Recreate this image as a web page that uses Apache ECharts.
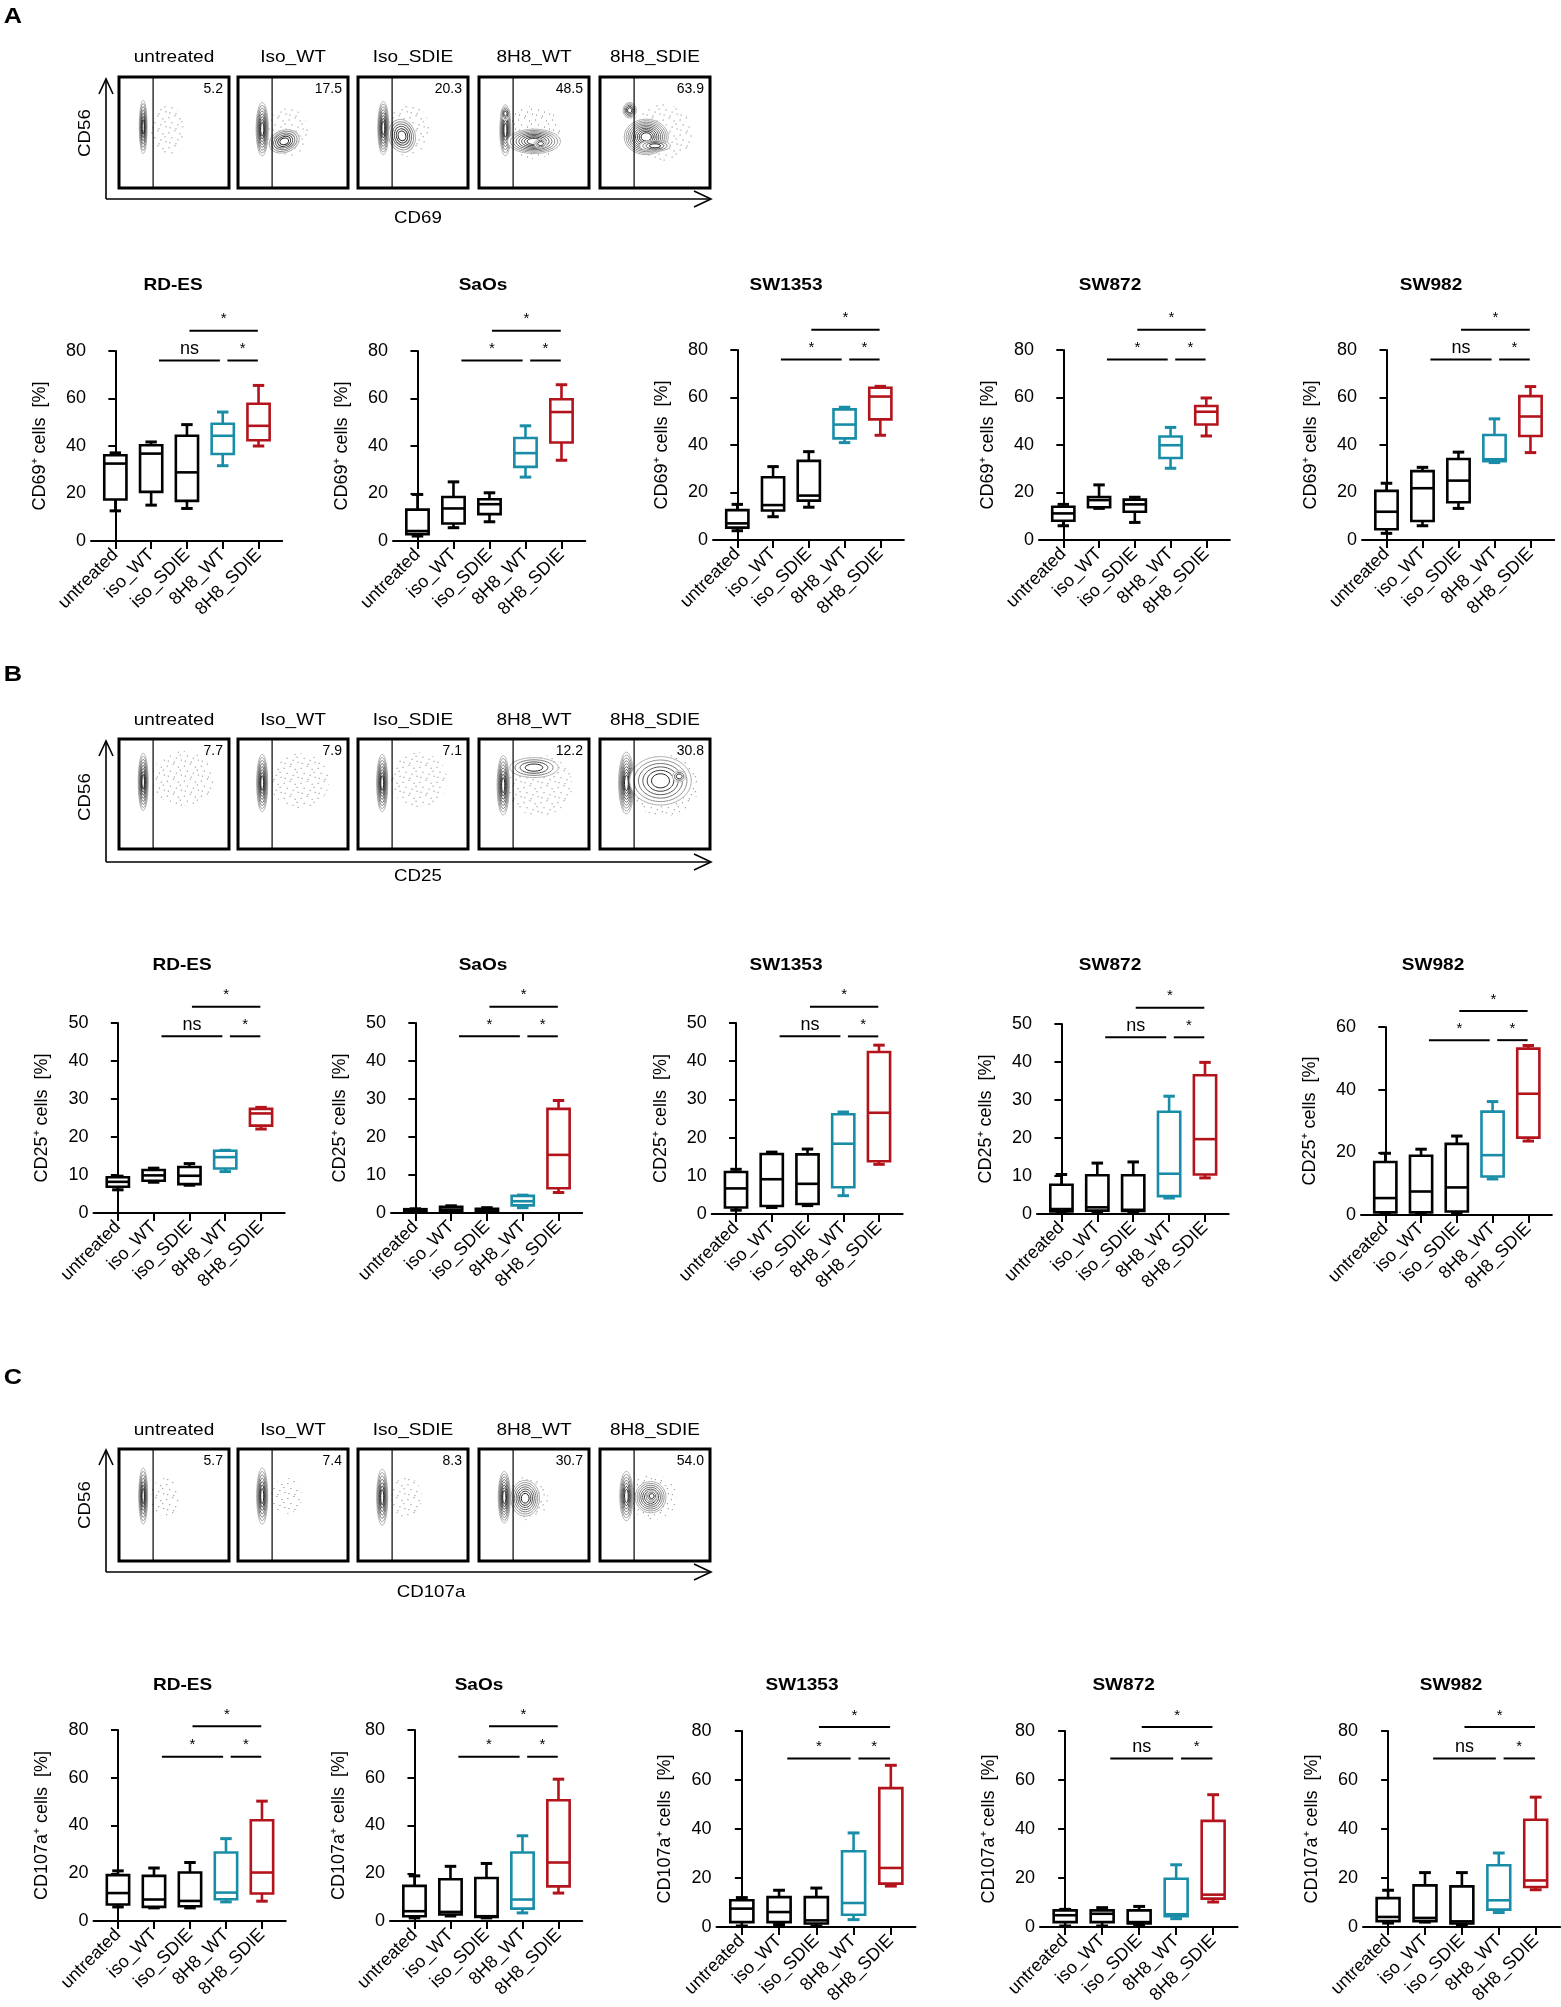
<!DOCTYPE html>
<html lang="en">
<head>
<meta charset="UTF-8">
<title>NK cell activation</title>
<script src="https://cdn.jsdelivr.net/npm/echarts@6/dist/echarts.min.js"></script>
<style>
html,body{margin:0;padding:0;background:#fff;}
#main{width:1561px;height:2007px;}
</style>
</head>
<body>
<div id="main"></div>
<script>
// ---- data ----
var groups = ['untreated', 'iso_WT', 'iso_SDIE', '8H8_WT', '8H8_SDIE'];
var flowGroups = ['untreated', 'Iso_WT', 'Iso_SDIE', '8H8_WT', '8H8_SDIE'];
var cellLines = ['RD-ES', 'SaOs', 'SW1353', 'SW872', 'SW982'];

// box stats per group: [min, q1, median, q3, max]
var cd69_RDES   = [[12.7,17.5,32.6,36.1,37.1],[15.1,20.7,36.8,40.3,41.7],[13.7,16.9,28.9,44.3,49.0],[31.7,36.6,44.3,49.4,54.3],[40.0,42.4,48.5,57.8,65.5]];
var cd69_SaOs   = [[2.1,2.9,4.2,13.2,19.6],[5.6,7.4,13.7,18.5,24.9],[8.1,11.3,15.5,17.6,20.3],[26.9,31.2,37.0,43.4,48.5],[34.0,41.5,54.3,59.7,65.8]];
var cd69_SW1353 = [[3.9,5.2,7.0,12.6,15.0],[9.8,12.4,14.7,26.4,30.9],[13.8,16.6,18.7,33.3,37.2],[41.0,42.8,48.6,55.0,55.9],[44.1,50.8,60.4,64.1,64.7]];
var cd69_SW872  = [[6.0,8.1,11.2,14.0,15.0],[13.3,13.8,16.8,18.1,23.2],[7.4,11.9,15.0,17.0,18.0],[30.2,34.5,39.9,43.6,47.4],[43.8,48.6,54.0,56.4,59.8]];
var cd69_SW982  = [[2.8,4.5,11.9,20.7,23.9],[6.0,8.0,21.8,29.0,30.6],[13.3,15.9,25.0,34.1,37.0],[32.6,33.2,34.0,44.2,51.0],[36.8,43.8,52.0,60.6,64.6]];

var cd25_RDES   = [[6.1,6.9,8.2,9.4,9.7],[8.1,8.5,9.9,11.3,11.8],[7.3,7.6,9.8,12.1,13.0],[10.9,11.7,14.7,16.4,16.5],[22.1,23.0,26.2,27.4,27.8]];
var cd25_SaOs   = [[0.2,0.4,0.7,1.0,1.1],[0.2,0.35,0.9,1.6,1.9],[0.2,0.35,0.9,1.1,1.4],[1.4,2.0,3.1,4.5,4.7],[5.4,6.5,15.3,27.4,29.6]];
var cd25_SW1353 = [[1.0,1.7,6.7,11.0,11.7],[1.7,2.1,9.1,15.7,16.2],[2.2,2.6,7.9,15.6,17.0],[4.8,7.0,18.4,26.1,26.7],[13.0,13.8,26.5,42.4,44.2]];
var cd25_SW872  = [[0.4,0.7,1.3,7.7,10.4],[0.6,0.9,1.75,10.2,13.4],[0.4,0.8,1.1,10.2,13.7],[4.2,4.7,10.6,26.9,31.0],[9.5,10.4,19.7,36.5,39.9]];
var cd25_SW982  = [[0.4,0.85,5.4,16.9,19.7],[0.4,0.85,7.5,18.9,21.0],[0.6,1.1,8.8,22.7,25.2],[11.5,12.3,19.1,33.0,36.2],[23.6,24.7,38.7,53.1,54.1]];

var cd107_RDES   = [[5.9,6.9,11.7,19.2,21.0],[5.5,5.9,9.0,18.9,22.2],[5.5,6.2,8.4,20.3,24.5],[8.0,9.1,11.9,28.7,34.5],[8.3,11.5,20.3,42.2,50.2]];
var cd107_SaOs   = [[1.3,2.0,4.1,14.7,18.9],[2.1,2.7,3.8,17.5,22.9],[1.3,1.7,2.0,18.0,24.1],[3.4,5.2,9.0,28.7,35.7],[11.7,14.5,24.5,50.6,59.4]];
var cd107_SW1353 = [[0.4,2.0,7.5,10.9,12.0],[1.0,2.0,6.1,12.2,15.0],[0.4,1.4,2.7,12.2,15.9],[3.0,5.0,9.8,30.9,38.4],[16.7,17.7,24.1,56.7,66.0]];
var cd107_SW872  = [[0.4,2.0,4.8,6.8,7.2],[0.4,2.0,5.4,6.8,7.9],[0.7,1.4,2.0,6.8,8.4],[3.4,4.4,5.2,19.7,25.4],[10.2,11.6,13.2,43.3,54.0]];
var cd107_SW982  = [[1.6,2.4,4.1,11.8,15.0],[2.0,2.4,3.7,17.0,22.2],[0.7,1.4,2.3,16.6,22.2],[5.9,7.1,10.9,25.2,30.2],[15.2,16.3,19.0,43.8,53.0]];

// significance labels: [upper 8H8_SDIE vs iso_SDIE, lower-left, lower-right]
var cd69Sig  = [['*','ns','*'],['*','*','*'],['*','*','*'],['*','*','*'],['*','ns','*']];
var cd25Sig  = [['*','ns','*'],['*','*','*'],['*','ns','*'],['*','ns','*'],['*','*','*']];
var cd107Sig = [['*','*','*'],['*','*','*'],['*','*','*'],['*','ns','*'],['*','ns','*']];

// y axis tick labels (max and step)
var cd69Ticks  = [[80,20],[80,20],[80,20],[80,20],[80,20]];
var cd25Ticks  = [[50,10],[50,10],[50,10],[50,10],[60,20]];
var cd107Ticks = [[80,20],[80,20],[80,20],[80,20],[80,20]];

// flow plot gate percentages
var cd69Pct  = [5.2, 17.5, 20.3, 48.5, 63.9];
var cd25Pct  = [7.7, 7.9, 7.1, 12.2, 30.8];
var cd107Pct = [5.7, 7.4, 8.3, 30.7, 54.0];

// flow populations: [cx, cy, rx, ry, rotationDeg, rings, kind(0 contour, 1 dot cloud)]
var cd69Flow = [
  [[44,52,15,23,0,0,1],[22,55,3.5,24,0,7,0]],
  [[45,50,19,22,0,0,1],[22,53,5.5,24,0,8,0],[42,42,14,10,-20,6,0]],
  [[46,52,19,24,0,0,1],[23,54,5,24,0,8,0],[40,47,12,15,-15,6,0]],
  [[50,50,25,24,0,0,1],[24,52,5,23,0,7,0],[24,67,4,6,0,4,0],[50,42,24,11,0,8,0],[56,40,6,4,0,3,0]],
  [[56,50,28,26,0,0,1],[27,70,6,7,0,5,0],[42,46,20,16,0,10,0],[50,38,14,5,0,4,0]]
];
var cd25Flow = [
  [[58,64,28,25,0,0,1],[22,61,4.5,26,0,8,0]],
  [[56,62,27,25,0,0,1],[22,60,5,26,0,8,0]],
  [[55,63,26,25,0,0,1],[22,60,5,26,0,8,0]],
  [[55,58,30,28,0,0,1],[22,58,5.5,27,0,8,0],[50,74,22,9,0,4,0]],
  [[58,58,32,28,0,0,1],[24,60,7,28,0,9,0],[55,62,28,22,0,6,0],[72,66,6,5,0,3,0]]
];
var cd107Flow = [
  [[42,57,13,17,0,0,1],[22,58,4,25,0,7,0]],
  [[44,58,14,16,0,0,1],[22,58,5,25,0,7,0]],
  [[44,57,14,18,0,0,1],[22,57,5,25,0,7,0]],
  [[45,56,18,20,0,0,1],[23,57,5.5,23,0,8,0],[42,56,13,16,0,7,0]],
  [[48,57,22,20,0,0,1],[24,58,6,22,0,7,0],[46,57,14,14,0,7,0],[47,58,5,5,0,3,0]]
];

// ---- layout ----
var FONT = '"Liberation Sans", Arial, Helvetica, sans-serif';
var groupColors = ['#000', '#000', '#000', '#198DA8', '#B3141C'];
var XMIN = -0.68, XMAX = 4.66;

var panels = [
  { letter: 'A', marker: 'CD69', yName: 'CD69\u207A cells  [%]',
    stats: [cd69_RDES, cd69_SaOs, cd69_SW1353, cd69_SW872, cd69_SW982],
    sig: cd69Sig, ticks: cd69Ticks, pct: cd69Pct, flow: cd69Flow,
    sigFrac: [0.95, 1.107],
    lefts: [91, 393, 713, 1039, 1362], tops: [351, 351, 350, 350, 350], bottoms: [541, 541, 540, 540, 540],
    spacing: [35.8, 36, 35.75, 35.75, 36], titleX: [173, 483, 786, 1110, 1431], titleY: 285,
    letterY: 17, flowTitleY: 57, flowTop: 77, flowH: 111, arrowY: 199, arrowTop: 79, cd56Y: 133, markerX: 418, markerY: 218 },
  { letter: 'B', marker: 'CD25', yName: 'CD25\u207A cells  [%]',
    stats: [cd25_RDES, cd25_SaOs, cd25_SW1353, cd25_SW872, cd25_SW982],
    sig: cd25Sig, ticks: cd25Ticks, pct: cd25Pct, flow: cd25Flow,
    sigFrac: [0.93, 1.085],
    lefts: [93.5, 391, 711.7, 1037, 1361], tops: [1023, 1023, 1023, 1024, 1027], bottoms: [1213, 1213, 1214, 1214, 1215],
    spacing: [35.8, 35.8, 35.75, 35.9, 35.75], titleX: [182, 483, 786, 1110, 1433], titleY: 965,
    letterY: 675, flowTitleY: 720, flowTop: 739, flowH: 110, arrowY: 862, arrowTop: 741, cd56Y: 797, markerX: 418, markerY: 876 },
  { letter: 'C', marker: 'CD107a', yName: 'CD107a\u207A cells  [%]',
    stats: [cd107_RDES, cd107_SaOs, cd107_SW1353, cd107_SW872, cd107_SW982],
    sig: cd107Sig, ticks: cd107Ticks, pct: cd107Pct, flow: cd107Flow,
    sigFrac: [0.86, 1.02],
    lefts: [93.5, 390, 716.5, 1040, 1363], tops: [1730, 1730, 1731, 1731, 1731], bottoms: [1921, 1921, 1927, 1927, 1927],
    spacing: [36, 36, 37.25, 37, 36.9], titleX: [182.6, 479, 802, 1123.6, 1451], titleY: 1685,
    letterY: 1378, flowTitleY: 1430, flowTop: 1449, flowH: 112, arrowY: 1572, arrowTop: 1450, cd56Y: 1505, markerX: 431, markerY: 1592 }
];
var flowLefts = [119, 238, 358, 479, 600];
var flowW = 110;

// stipple tile used to fill the dot clouds of the flow plots (a texture, not data)
var dotTile = document.createElement('canvas');
dotTile.width = 17; dotTile.height = 15;
(function () {
  var c = dotTile.getContext('2d');
  c.fillStyle = '#555';
  [[1, 2], [7, 0], [12, 3], [4, 7], [10, 9], [15, 11], [2, 12], [8, 13], [14, 6]].forEach(function (d) { c.fillRect(d[0], d[1], 1, 1); });
})();

var grids = [], xAxes = [], yAxes = [], series = [], graphics = [];

function txt(x, y, text, size, weight, opt) {
  var o = { type: 'text', x: x, y: y, z: 10,
    style: { text: text, font: (weight || 'normal') + ' ' + size + 'px ' + FONT, fill: '#000', align: 'center', verticalAlign: 'middle' } };
  if (opt) { for (var k in opt) o[k] = opt[k]; }
  return o;
}
function line(x1, y1, x2, y2, w) {
  return { type: 'line', z: 10, shape: { x1: x1, y1: y1, x2: x2, y2: y2 }, style: { stroke: '#000', lineWidth: w || 1.5 } };
}
function poly(pts, w) {
  return { type: 'polyline', z: 10, shape: { points: pts }, style: { stroke: '#000', lineWidth: w || 1.5, fill: null } };
}

function boxRender(params, api) {
  var ci = api.value(0);
  var color = groupColors[ci];
  var bw = api.size([0.62, 0])[0];
  var cw = api.size([0.32, 0])[0];
  var pMin = api.coord([ci, api.value(1)]);
  var pQ1 = api.coord([ci, api.value(2)]);
  var pMed = api.coord([ci, api.value(3)]);
  var pQ3 = api.coord([ci, api.value(4)]);
  var pMax = api.coord([ci, api.value(5)]);
  var x = pMed[0];
  var st = { stroke: color, lineWidth: 2.6, fill: null };
  return { type: 'group', children: [
    { type: 'line', shape: { x1: x, y1: pMax[1], x2: x, y2: pQ3[1] }, style: st },
    { type: 'line', shape: { x1: x, y1: pQ1[1], x2: x, y2: pMin[1] }, style: st },
    { type: 'line', shape: { x1: x - cw / 2, y1: pMax[1], x2: x + cw / 2, y2: pMax[1] }, style: { stroke: color, lineWidth: 3 } },
    { type: 'line', shape: { x1: x - cw / 2, y1: pMin[1], x2: x + cw / 2, y2: pMin[1] }, style: { stroke: color, lineWidth: 3 } },
    { type: 'rect', shape: { x: x - bw / 2, y: pQ3[1], width: bw, height: pQ1[1] - pQ3[1] }, style: { stroke: color, lineWidth: 2.6, fill: '#fff' } },
    { type: 'line', shape: { x1: x - bw / 2, y1: pMed[1], x2: x + bw / 2, y2: pMed[1] }, style: st }
  ] };
}

panels.forEach(function (p, pi) {
  // panel letter
  graphics.push(txt(13, p.letterY, p.letter, 22, 'bold', { scaleX: 1.15 }));

  // flow cytometry row
  flowGroups.forEach(function (g, fi) {
    var gi = grids.length;
    grids.push({ left: flowLefts[fi], top: p.flowTop, width: flowW, height: p.flowH, show: true,
      borderColor: '#000', borderWidth: 3, backgroundColor: 'transparent', outerBoundsMode: 'none' });
    xAxes.push({ type: 'value', gridIndex: gi, min: 0, max: 100, show: false });
    yAxes.push({ type: 'value', gridIndex: gi, min: 0, max: 100, show: false });
    series.push({
      type: 'custom', xAxisIndex: gi, yAxisIndex: gi, clip: true, silent: true,
      data: p.flow[fi], encode: { x: 0, y: 1 },
      renderItem: function (params, api) {
        var c = api.coord([api.value(0), api.value(1)]);
        var s = api.size([api.value(2), api.value(3)]);
        var rot = -api.value(4) * Math.PI / 180;
        var n = api.value(5);
        if (api.value(6) === 1) {
          return { type: 'ellipse', x: c[0], y: c[1], rotation: rot,
            shape: { cx: 0, cy: 0, rx: s[0], ry: s[1] },
            style: { fill: { image: dotTile, repeat: 'repeat' }, stroke: null, opacity: 0.8 } };
        }
        var kids = [];
        for (var k = 0; k < n; k++) {
          var f = 1 - k / n * 0.85;
          var shade = Math.round(175 - 145 * k / Math.max(1, n - 1));
          kids.push({ type: 'ellipse', shape: { cx: 0, cy: 0, rx: s[0] * f, ry: s[1] * f },
            style: { fill: k === 0 ? '#fff' : null, stroke: 'rgb(' + shade + ',' + shade + ',' + shade + ')', lineWidth: 1 } });
        }
        return { type: 'group', x: c[0], y: c[1], rotation: rot, children: kids };
      }
    });
    series.push({
      type: 'custom', xAxisIndex: gi, yAxisIndex: gi, silent: true,
      data: [[31, p.pct[fi]]], encode: { x: 0 },
      renderItem: function (params, api) {
        var b = api.coord([api.value(0), 0]);
        var t = api.coord([api.value(0), 100]);
        var tr = api.coord([100, 100]);
        return { type: 'group', children: [
          { type: 'line', shape: { x1: b[0], y1: b[1], x2: t[0], y2: t[1] }, style: { stroke: '#000', lineWidth: 1.2 } },
          { type: 'text', x: tr[0] - 6, y: tr[1] + 5,
            style: { text: api.value(1).toFixed(1), font: '14px ' + FONT, fill: '#000', align: 'right', verticalAlign: 'top' } }
        ] };
      }
    });
    graphics.push(txt(flowLefts[fi] + flowW / 2, p.flowTitleY, g, 17, 'normal', { scaleX: 1.12 }));
  });

  // flow axes arrows
  var ax = 106, ay = p.arrowY, xEnd = 711;
  graphics.push(line(ax, ay, ax, p.arrowTop, 1.6));
  graphics.push(line(ax, ay, xEnd, ay, 1.6));
  graphics.push(poly([[ax - 7, p.arrowTop + 15], [ax, p.arrowTop], [ax + 7, p.arrowTop + 15]], 1.6));
  graphics.push(poly([[xEnd - 17, ay - 8], [xEnd, ay], [xEnd - 17, ay + 8]], 1.6));
  graphics.push(txt(85, p.cd56Y, 'CD56', 17, 'normal', { rotation: Math.PI / 2, scaleX: 1.1 }));
  graphics.push(txt(p.markerX, p.markerY, p.marker, 17, 'normal', { scaleX: 1.1 }));

  // box plot row
  cellLines.forEach(function (cl, ci) {
    var gi = grids.length;
    var top = p.tops[ci], bottom = p.bottoms[ci];
    var yMax = p.ticks[ci][0], yStep = p.ticks[ci][1];
    grids.push({ left: p.lefts[ci], top: top, width: (XMAX - XMIN) * p.spacing[ci], height: bottom - top, outerBoundsMode: 'none' });
    xAxes.push({
      type: 'value', gridIndex: gi, min: XMIN, max: XMAX,
      axisLine: { show: true, onZero: false, lineStyle: { color: '#000', width: 2 } },
      axisTick: { show: true, customValues: [0, 1, 2, 3, 4], length: 8, lineStyle: { color: '#000', width: 2 } },
      axisLabel: { customValues: [0, 1, 2, 3, 4], rotate: 45, margin: 11, color: '#000', fontSize: 18, fontFamily: FONT,
        overflow: 'none', formatter: function (v) { return groups[Math.round(v)]; } },
      splitLine: { show: false }
    });
    yAxes.push({
      type: 'value', gridIndex: gi, min: 0, max: yMax, interval: yStep,
      name: p.yName, nameLocation: 'middle', nameGap: 42, nameRotate: 90,
      nameTextStyle: { color: '#000', fontSize: 18, fontFamily: FONT },
      axisLine: { show: true, lineStyle: { color: '#000', width: 2 } },
      axisTick: { show: true, length: 7, lineStyle: { color: '#000', width: 2 } },
      axisLabel: { color: '#000', fontSize: 18, fontFamily: FONT, margin: 5 },
      splitLine: { show: false }
    });
    series.push({
      type: 'custom', xAxisIndex: gi, yAxisIndex: gi, silent: true,
      data: p.stats[ci].map(function (s, k) { return [k].concat(s); }),
      encode: { x: 0, y: [1, 2, 3, 4, 5] },
      renderItem: boxRender
    });
    var lo = p.sigFrac[0] * yMax, hi = p.sigFrac[1] * yMax;
    var labels = p.sig[ci];
    series.push({
      type: 'custom', xAxisIndex: gi, yAxisIndex: gi, silent: true, clip: false,
      data: [[2.07, 3.98, hi], [1.22, 2.92, lo], [3.13, 3.98, lo]],
      encode: { x: [0, 1] },
      renderItem: function (params, api) {
        var a = api.coord([api.value(0), api.value(2)]);
        var b = api.coord([api.value(1), api.value(2)]);
        var lab = labels[params.dataIndex];
        var isNs = lab === 'ns';
        return { type: 'group', children: [
          { type: 'line', shape: { x1: a[0], y1: a[1], x2: b[0], y2: b[1] }, style: { stroke: '#000', lineWidth: 2 } },
          { type: 'text', x: (a[0] + b[0]) / 2, y: a[1] - (isNs ? 2 : 4),
            style: { text: lab, font: (isNs ? '18px ' : '15px ') + FONT, fill: '#000', align: 'center', verticalAlign: 'bottom' } }
        ] };
      }
    });
    graphics.push(txt(p.titleX[ci], p.titleY, cl, 17, 'bold', { scaleX: 1.12 }));
  });
});

var chart = echarts.init(document.getElementById('main'));
chart.setOption({
  animation: false,
  backgroundColor: '#fff',
  grid: grids,
  xAxis: xAxes,
  yAxis: yAxes,
  series: series,
  graphic: { elements: graphics }
});
</script>
</body>
</html>
